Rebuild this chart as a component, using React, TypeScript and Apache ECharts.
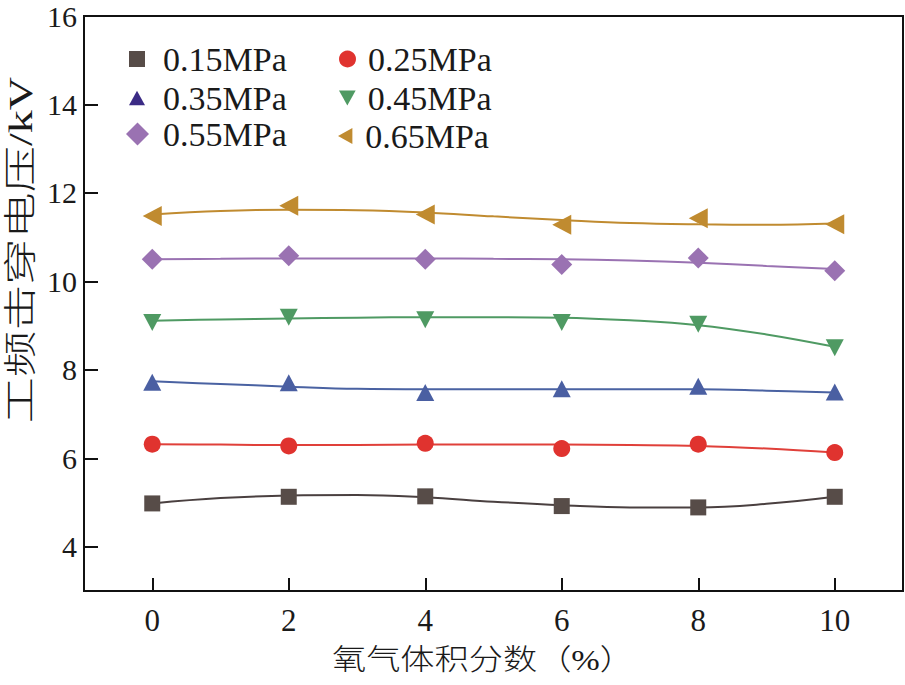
import React, { useEffect, useRef } from "react";
import * as echarts from "echarts";

const xValues = [0, 2, 4, 6, 8, 10];
const fitX = [0, 1, 2, 3, 4, 5, 6, 7, 8, 9, 10];

const seriesNames = ["0.15MPa", "0.25MPa", "0.35MPa", "0.45MPa", "0.55MPa", "0.65MPa"];

const p015 = [4.98, 5.13, 5.14, 4.92, 4.89, 5.13];
const p025 = [6.32, 6.28, 6.34, 6.22, 6.32, 6.13];
const p035 = [7.72, 7.71, 7.49, 7.57, 7.63, 7.5];
const p045 = [9.07, 9.19, 9.13, 9.07, 9.03, 8.5];
const p055 = [10.5, 10.58, 10.5, 10.38, 10.53, 10.24];
const p065 = [11.48, 11.71, 11.51, 11.28, 11.43, 11.29];

const f015 = [4.98, 5.1, 5.16, 5.17, 5.12, 5.02, 4.94, 4.89, 4.89, 4.97, 5.13];
const f025 = [6.32, 6.31, 6.3, 6.3, 6.31, 6.31, 6.31, 6.3, 6.28, 6.22, 6.13];
const f035 = [7.74, 7.68, 7.62, 7.57, 7.56, 7.56, 7.56, 7.56, 7.56, 7.53, 7.49];
const f045 = [9.11, 9.14, 9.16, 9.18, 9.19, 9.19, 9.18, 9.12, 9.01, 8.8, 8.52];
const f055 = [10.5, 10.51, 10.52, 10.52, 10.52, 10.51, 10.5, 10.47, 10.42, 10.35, 10.28];
const f065 = [11.51, 11.59, 11.62, 11.61, 11.56, 11.47, 11.39, 11.32, 11.29, 11.28, 11.31];

const xTicks = [0, 2, 4, 6, 8, 10];
const yTicks = [4, 6, 8, 10, 12, 14, 16];

const xName = "氧气体积分数（%）";
const yName = "工频击穿电压/kV";

const points = [p015, p025, p035, p045, p055, p065];
const fits = [f015, f025, f035, f045, f055, f065];

const markerColors = ["#574c48", "#e0332f", "#4a5fa2", "#4f9a63", "#9a72b2", "#c08b30"];
const legendColors = ["#574c48", "#e0332f", "#3b2b85", "#4f9a63", "#9a72b2", "#c08b30"];
const lineColors = ["#4a4040", "#e0403a", "#4a62a2", "#4f9a63", "#9a72b2", "#c08b30"];
const symbols = [
  "rect",
  "circle",
  "path://M5,0L10,9L0,9Z",
  "path://M0,0L10,0L5,9Z",
  "diamond",
  "path://M0,5L9,0L9,10Z",
];
const symbolSizes: any[] = [16, 17, [18, 17], [18, 17], 21, [19, 20]];
const legendIconSizes = [
  [16, 16],
  [17, 17],
  [16, 15],
  [17, 15],
  [23, 23],
  [20, 16],
];
const legendPos = [
  [129, 42],
  [339, 42],
  [129, 81],
  [339, 81],
  [126, 117],
  [338, 119],
];
const legendTextPad = [13, 7, 13, 7, 9, 5];

const SERIF = "'Liberation Serif', 'Times New Roman', serif";
const CJK = "'Liberation Serif', 'Noto Sans CJK SC', serif";

export default function App() {
  const ref = useRef<HTMLDivElement>(null);

  useEffect(() => {
    document.body.style.margin = "0";
    const chart = echarts.init(ref.current!, undefined, { renderer: "svg" });

    const series: any[] = [];
    fits.forEach((f, i) => {
      series.push({
        name: "fit" + i,
        type: "line",
        smooth: 0.4,
        showSymbol: false,
        symbol: "none",
        data: fitX.map((x, k) => [x, f[k]]),
        lineStyle: { color: lineColors[i], width: 2 },
        z: 2,
        silent: true,
      });
    });
    points.forEach((p, i) => {
      series.push({
        name: seriesNames[i],
        type: "scatter",
        symbol: symbols[i],
        symbolSize: symbolSizes[i],
        data: xValues.map((x, k) => [x, p[k]]),
        itemStyle: { color: markerColors[i], opacity: 1 },
        z: 5,
      });
    });

    const legends = seriesNames.map((n, i) => ({
      left: legendPos[i][0],
      top: legendPos[i][1],
      orient: "horizontal",
      padding: 0,
      itemWidth: legendIconSizes[i][0],
      itemHeight: legendIconSizes[i][1],
      selectedMode: false,
      data: [
        {
          name: n,
          icon: symbols[i],
          itemStyle: { color: legendColors[i] },
        },
      ],
      textStyle: {
        fontFamily: SERIF,
        fontSize: 34,
        color: "#1a1a1a",
        padding: [0, 0, 0, legendTextPad[i]],
      },
    }));

    chart.setOption({
      animation: false,
      backgroundColor: "#ffffff",
      grid: {
        left: 84,
        right: 2,
        top: 16,
        bottom: 94,
        show: true,
        borderColor: "#111",
        borderWidth: 2,
        backgroundColor: "transparent",
      },
      legend: legends,
      xAxis: {
        type: "value",
        min: -1,
        max: 11,
        splitLine: { show: false },
        axisLine: { show: true, onZero: false, lineStyle: { color: "#111", width: 2 } },
        axisTick: {
          show: true,
          inside: true,
          length: 13,
          customValues: xTicks,
          lineStyle: { color: "#111", width: 2 },
        },
        axisLabel: {
          customValues: xTicks,
          margin: 14,
          fontFamily: SERIF,
          fontSize: 31,
          color: "#1a1a1a",
        },
      },
      yAxis: {
        type: "value",
        min: 3,
        max: 16,
        splitLine: { show: false },
        axisLine: { show: true, onZero: false, lineStyle: { color: "#111", width: 2 } },
        axisTick: {
          show: true,
          inside: true,
          length: 14,
          customValues: yTicks,
          lineStyle: { color: "#111", width: 2 },
        },
        axisLabel: {
          customValues: yTicks,
          margin: 7,
          fontFamily: SERIF,
          fontSize: 30,
          color: "#1a1a1a",
        },
      },
      graphic: [
        {
          type: "text",
          x: 483,
          y: 660,
          scaleX: 1.18,
          scaleY: 1,
          style: {
            text: xName,
            font: "300 29px " + CJK,
            fill: "#1a1a1a",
            textAlign: "center",
            textVerticalAlign: "middle",
          },
        },
        {
          type: "text",
          x: 21,
          y: 250,
          rotation: Math.PI / 2,
          scaleX: 1.4,
          scaleY: 1,
          style: {
            text: yName,
            font: "300 33px " + CJK,
            fill: "#1a1a1a",
            textAlign: "center",
            textVerticalAlign: "middle",
          },
        },
      ],
      series,
    });

    return () => chart.dispose();
  }, []);

  return <div ref={ref} style={{ width: 905, height: 685 }} />;
}
